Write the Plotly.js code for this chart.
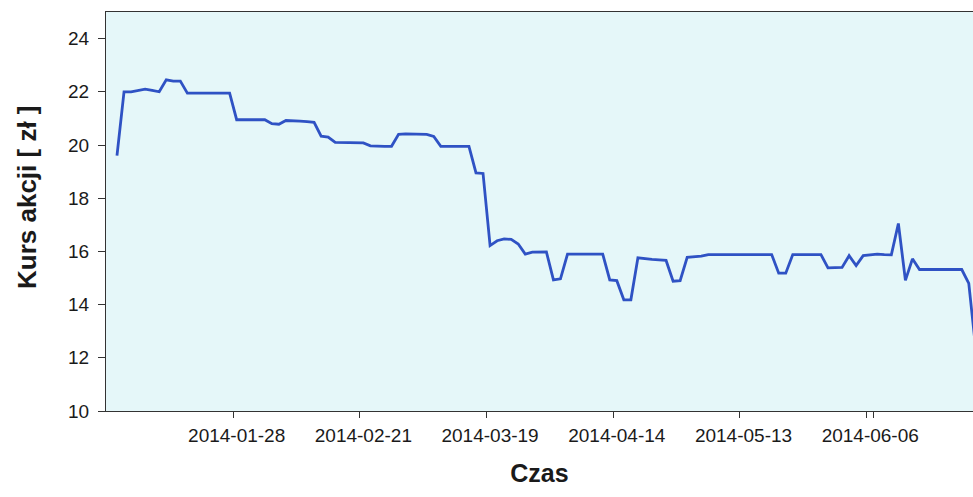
<!DOCTYPE html>
<html>
<head>
<meta charset="utf-8">
<script src="https://cdn.plot.ly/plotly-3.0.1.min.js"></script>
<style>
html, body { margin: 0; padding: 0; background: #ffffff; overflow: hidden; }
#chart { width: 973px; height: 497px; }
</style>
</head>
<body>
<div id="chart"></div>
<script>
// Trading days (categories)
const dates = [
  "2014-01-02","2014-01-03","2014-01-07","2014-01-08","2014-01-09","2014-01-10",
  "2014-01-13","2014-01-14","2014-01-15","2014-01-16","2014-01-17",
  "2014-01-20","2014-01-21","2014-01-22","2014-01-23","2014-01-24",
  "2014-01-27","2014-01-28","2014-01-29","2014-01-30","2014-01-31",
  "2014-02-03","2014-02-04","2014-02-05","2014-02-06","2014-02-07",
  "2014-02-10","2014-02-11","2014-02-12","2014-02-13","2014-02-14",
  "2014-02-17","2014-02-18","2014-02-19","2014-02-20","2014-02-21",
  "2014-02-24","2014-02-25","2014-02-26","2014-02-27","2014-02-28",
  "2014-03-03","2014-03-04","2014-03-05","2014-03-06","2014-03-07",
  "2014-03-10","2014-03-11","2014-03-12","2014-03-13","2014-03-14",
  "2014-03-17","2014-03-18","2014-03-19","2014-03-20","2014-03-21",
  "2014-03-24","2014-03-25","2014-03-26","2014-03-27","2014-03-28",
  "2014-03-31","2014-04-01","2014-04-02","2014-04-03","2014-04-04",
  "2014-04-07","2014-04-08","2014-04-09","2014-04-10","2014-04-11",
  "2014-04-14","2014-04-15","2014-04-16","2014-04-17",
  "2014-04-22","2014-04-23","2014-04-24","2014-04-25",
  "2014-04-28","2014-04-29","2014-04-30","2014-05-02",
  "2014-05-05","2014-05-06","2014-05-07","2014-05-08","2014-05-09",
  "2014-05-12","2014-05-13","2014-05-14","2014-05-15","2014-05-16",
  "2014-05-19","2014-05-20","2014-05-21","2014-05-22","2014-05-23",
  "2014-05-26","2014-05-27","2014-05-28","2014-05-29","2014-05-30",
  "2014-06-02","2014-06-03","2014-06-04","2014-06-05","2014-06-06",
  "2014-06-09","2014-06-10","2014-06-11","2014-06-12","2014-06-13",
  "2014-06-16","2014-06-17","2014-06-18","2014-06-20",
  "2014-06-23","2014-06-24","2014-06-25","2014-06-26","2014-06-27",
  "2014-06-30"
];

// Share price [zł]
const prices = [
  19.6, 22.0, 22.0, 22.05, 22.1, 22.05,
  22.0, 22.45, 22.4, 22.4, 21.95,
  21.95, 21.95, 21.95, 21.95, 21.95,
  21.95, 20.95, 20.95, 20.95, 20.95,
  20.95, 20.8, 20.78, 20.92, 20.92,
  20.9, 20.88, 20.85, 20.33, 20.3,
  20.1, 20.1, 20.1, 20.1, 20.08,
  19.97, 19.95, 19.95, 19.95, 20.4,
  20.42, 20.42, 20.42, 20.4, 20.32,
  19.95, 19.95, 19.95, 19.95, 19.95,
  18.95, 18.93, 16.22, 16.4, 16.47,
  16.45, 16.28, 15.9, 15.97, 15.98,
  15.98, 14.93, 14.97, 15.9, 15.9,
  15.9, 15.9, 15.9, 15.9, 14.93,
  14.9, 14.18, 14.18, 15.76,
  15.72, 15.7, 15.68, 15.66,
  14.88, 14.9, 15.78, 15.8,
  15.82, 15.88, 15.88, 15.88, 15.88,
  15.88, 15.88, 15.88, 15.88, 15.88,
  15.88, 15.18, 15.18, 15.88, 15.88,
  15.88, 15.88, 15.88, 15.38, 15.38,
  15.4, 15.84, 15.47, 15.84, 15.86,
  15.9, 15.88, 15.87, 17.05, 14.91,
  15.72, 15.32, 15.32, 15.32,
  15.32, 15.32, 15.32, 15.32, 14.8,
  12.3
];

const tickDates = ["2014-01-28","2014-02-21","2014-03-19","2014-04-14","2014-05-13","2014-06-06"];
const yTicks = [10, 12, 14, 16, 18, 20, 22, 24];

const trace = {
  x: dates,
  y: prices,
  type: "scatter",
  mode: "lines",
  line: { color: "#2f52c4", width: 2.8 },
  hoverinfo: "x+y"
};

const tickFont = { family: "Liberation Sans, Arial, sans-serif", size: 19, color: "#1a1a1a" };
const titleFont = { family: "Liberation Sans, Arial, sans-serif", size: 25, color: "#1a1a1a", weight: "bold" };

const layout = {
  width: 973,
  height: 497,
  margin: { l: 106, r: 0, t: 12, b: 86 },
  paper_bgcolor: "#ffffff",
  plot_bgcolor: "#e5f7f9",
  showlegend: false,
  xaxis: {
    type: "category",
    range: [-1.56, 121.6],
    tickmode: "array",
    tickvals: tickDates,
    ticktext: tickDates,
    tickson: "boundaries",
    tickangle: 0,
    ticks: "outside",
    ticklen: 6,
    tickcolor: "#333",
    showgrid: false,
    zeroline: false,
    showline: true,
    linecolor: "#333",
    linewidth: 1,
    mirror: true,
    tickfont: tickFont,
    ticklabelstandoff: 7,
    title: { text: "Czas", font: titleFont, standoff: 19 }
  },
  yaxis: {
    range: [10, 25],
    tickmode: "array",
    tickvals: yTicks,
    ticktext: yTicks.map(String),
    ticks: "outside",
    ticklen: 7,
    tickcolor: "#333",
    showgrid: false,
    zeroline: false,
    showline: true,
    linecolor: "#333",
    linewidth: 1,
    mirror: false,
    tickfont: tickFont,
    ticklabelstandoff: 5
  },
  annotations: [{
    text: "Kurs akcji [ zł ]",
    textangle: -90,
    xref: "paper", yref: "paper",
    x: -(106 - 27) / 867, y: (411 - 197) / 399,
    xanchor: "center", yanchor: "middle",
    showarrow: false,
    font: { family: "Liberation Sans, Arial, sans-serif", size: 26, color: "#1a1a1a", weight: "bold" }
  }]
};

Plotly.newPlot("chart", [trace], layout, { displayModeBar: false, staticPlot: true });
</script>
</body>
</html>
